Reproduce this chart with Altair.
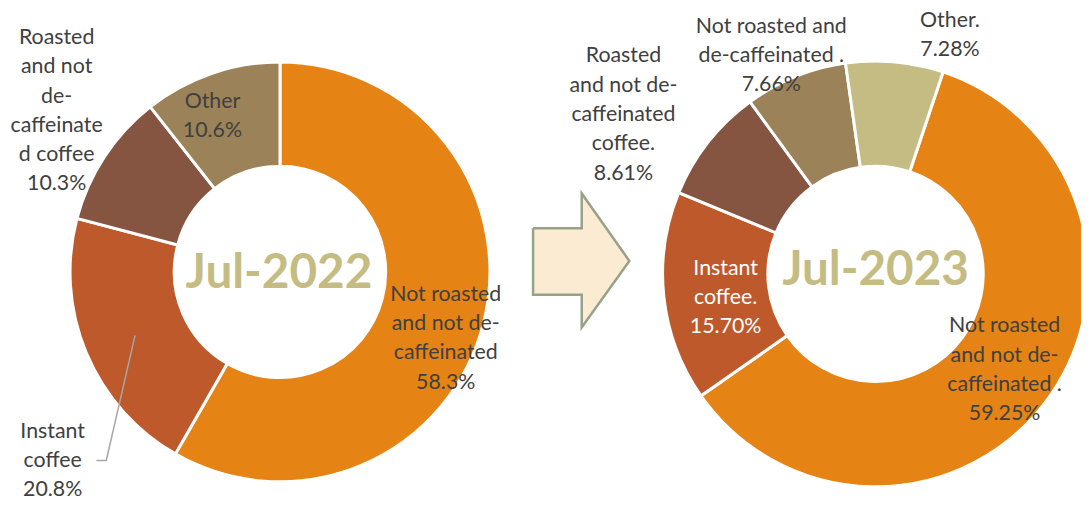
import math
import altair as alt
import pandas as pd

# ---------------- data ----------------
cats_2022 = ["Not roasted and not de-caffeinated", "Instant coffee",
             "Roasted and not de-caffeinated coffee", "Other"]
vals_2022 = [58.3, 20.8, 10.3, 10.6]
text_2022 = [["Not roasted", "and not de-", "caffeinated"],
             ["Instant", "coffee"],
             ["Roasted", "and not", "de-", "caffeinate", "d coffee"],
             ["Other"]]

cats_2023 = ["Not roasted and not de-caffeinated", "Instant coffee",
             "Roasted and not de-caffeinated coffee",
             "Not roasted and de-caffeinated", "Other"]
vals_2023 = [59.25, 15.70, 8.61, 7.66, 7.28]
text_2023 = [["Not roasted", "and not de-", "caffeinated ."],
             ["Instant", "coffee."],
             ["Roasted", "and not de-", "caffeinated", "coffee."],
             ["Not roasted and", "de-caffeinated ."],
             ["Other."]]

period_labels = ["Jul-2022", "Jul-2023"]

# ---------------- layout / style ----------------
W, H = 1081, 497
C_ORANGE, C_INSTANT, C_ROAST, C_TAN, C_LIGHT = "#E58314", "#BD592B", "#865541", "#9C8258", "#C4BC83"
TXT = "#404040"
FONT = "Lato"

centers = [(274, 264), (874, 266)]
radii = [(211.5, 106.5), (214.5, 108.5)]
start_deg = [0.0, 18.5]
# position of the first line of each label
label_pos_2022 = [(441, 287), (45, 425), (49, 28.5), (206, 93)]
label_pos_2023 = [(1004, 319), (723, 261), (620, 47), (769, 17), (949, 11)]
inside_2023 = [False, True, False, False, False]
title_pos = [(273, 266), (874, 263)]
# arrow shape: shaft rectangle + head triangle, plus outline path
shaft = (529, 580, 220, 287)
head_x = [578, 626]
head_top = [185, 253]
head_bot = [320, 253]
outline = [(529, 220), (578, 220), (578, 185), (626, 253), (578, 320),
           (578, 287), (529, 287), (529, 220)]
leader = [(89, 454), (99, 454), (128, 328)]

xs = alt.Scale(domain=[0, W], range=[0, W])
ys = alt.Scale(domain=[0, H], range=[0, H])

df22 = pd.DataFrame({"cat": cats_2022, "val": vals_2022, "i": range(len(cats_2022))})
df23 = pd.DataFrame({"cat": cats_2023, "val": vals_2023, "i": range(len(cats_2023))})


def donut(df, k, colors):
    s = math.radians(start_deg[k])
    cx, cy = centers[k]
    ro, ri = radii[k]
    return alt.Chart(df).mark_arc(radius=ro, radius2=ri, stroke="white", strokeWidth=3).encode(
        theta=alt.Theta("val:Q", stack=True, scale=alt.Scale(range=[s, s + 2 * math.pi])),
        order=alt.Order("i:Q"),
        color=alt.Color("cat:N", scale=alt.Scale(domain=list(df["cat"]), range=colors), legend=None),
        x=alt.value(cx), y=alt.value(cy),
    )


arc22 = donut(df22, 0, [C_ORANGE, C_INSTANT, C_ROAST, C_TAN])
arc23 = donut(df23, 1, [C_ORANGE, C_INSTANT, C_ROAST, C_TAN, C_LIGHT])

rows = []
for j, (t, v) in enumerate(zip(text_2022, vals_2022)):
    rows.append({"txt": "\n".join(t + [f"{v:.1f}%"]), "px": label_pos_2022[j][0],
                 "py": label_pos_2022[j][1], "inside": False})
for j, (t, v) in enumerate(zip(text_2023, vals_2023)):
    rows.append({"txt": "\n".join(t + [f"{v:.2f}%"]), "px": label_pos_2023[j][0],
                 "py": label_pos_2023[j][1], "inside": inside_2023[j]})
lab_df = pd.DataFrame(rows)

labels = alt.Chart(lab_df).mark_text(font=FONT, fontSize=21.5, lineBreak="\n", lineHeight=29.5,
                                     align="center", baseline="middle").encode(
    x=alt.X("px:Q", scale=xs, axis=None),
    y=alt.Y("py:Q", scale=ys, axis=None),
    text="txt:N",
    color=alt.condition("datum.inside", alt.value("white"), alt.value(TXT)),
)

title_df = pd.DataFrame({"t": period_labels, "px": [p[0] for p in title_pos], "py": [p[1] for p in title_pos]})
titles = alt.Chart(title_df).mark_text(font=FONT, fontSize=48, fontWeight="bold", color=C_LIGHT,
                                       align="center", baseline="middle").encode(
    x=alt.X("px:Q", scale=xs, axis=None), y=alt.Y("py:Q", scale=ys, axis=None), text="t:N")

ARROW_FILL, ARROW_LINE = "#FCEBD3", "#95A288"
shaft_df = pd.DataFrame({"x1": [shaft[0]], "x2": [shaft[1]], "y1": [shaft[2]], "y2": [shaft[3]]})
shaft_mark = alt.Chart(shaft_df).mark_rect(fill=ARROW_FILL, strokeWidth=0).encode(
    x=alt.X("x1:Q", scale=xs, axis=None), x2="x2:Q",
    y=alt.Y("y1:Q", scale=ys, axis=None), y2="y2:Q")
head_df = pd.DataFrame({"px": head_x, "top": head_top, "bot": head_bot})
head_mark = alt.Chart(head_df).mark_area(fill=ARROW_FILL, strokeWidth=0, interpolate="linear").encode(
    x=alt.X("px:Q", scale=xs, axis=None),
    y=alt.Y("top:Q", scale=ys, axis=None), y2="bot:Q")
out_df = pd.DataFrame({"px": [p[0] for p in outline], "py": [p[1] for p in outline], "i": range(len(outline))})
out_mark = alt.Chart(out_df).mark_line(color=ARROW_LINE, strokeWidth=2.5, strokeJoin="miter").encode(
    x=alt.X("px:Q", scale=xs, axis=None), y=alt.Y("py:Q", scale=ys, axis=None),
    order=alt.Order("i:Q"))

lead_df = pd.DataFrame({"px": [p[0] for p in leader], "py": [p[1] for p in leader], "i": range(3)})
lead = alt.Chart(lead_df).mark_line(color="#A6A6A6", strokeWidth=1.5).encode(
    x=alt.X("px:Q", scale=xs, axis=None), y=alt.Y("py:Q", scale=ys, axis=None),
    order=alt.Order("i:Q"))

chart = alt.layer(arc22, arc23, shaft_mark, head_mark, out_mark, lead, labels, titles).resolve_scale(
    theta="independent", color="independent"
).properties(width=W, height=H, autosize=alt.AutoSizeParams(type="none"), padding=0,
             background="white").configure_view(strokeWidth=0)

chart.save("out.html", embed_options={"renderer": "svg", "actions": False})
